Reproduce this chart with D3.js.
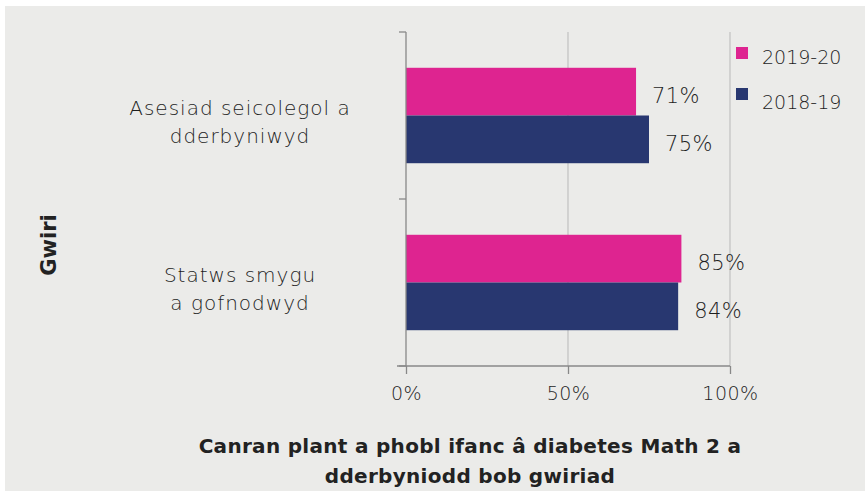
<!DOCTYPE html>
<html>
<head>
<meta charset="utf-8">
<script src="https://cdn.jsdelivr.net/npm/d3@7"></script>
<style>
  body { margin: 0; background: #fff; }
  svg { display: block; font-family: "DejaVu Sans", sans-serif; }
</style>
</head>
<body>
<div id="chart"></div>
<script>
// data
const categories = ["Asesiad seicolegol a dderbyniwyd", "Statws smygu a gofnodwyd"];
const categoryLines = [["Asesiad seicolegol a", "dderbyniwyd"], ["Statws smygu", "a gofnodwyd"]];
const seriesNames = ["2019-20", "2018-19"];
const values2019 = [71, 85];
const values2018 = [75, 84];
const xTicks = [0, 50, 100];

const colors = ["#de2490", "#283770"];
const textColor = "#1e1e1e";

const width = 865, height = 493;
const margin = ({ top: 32, right: 135, bottom: 127, left: 406 });

const svg = d3.select("#chart")
  .append("svg")
  .attr("width", width)
  .attr("height", height);

// grey panel
svg.append("rect")
  .attr("x", 5).attr("y", 6)
  .attr("width", width - 5).attr("height", 485)
  .attr("fill", "#ebebe9");

let x = d3.scaleLinear()
  .domain([0, 100])
  .range([margin.left, width - margin.right]);

let y = d3.scaleBand()
  .domain(categories)
  .range([margin.top, height - margin.bottom]);

let ySub = d3.scaleBand()
  .domain(seriesNames)
  .range([0, y.bandwidth()])
  .paddingOuter(0.75);

// gridlines
svg.append("g")
  .selectAll("line")
  .data(xTicks.slice(1))
  .join("line")
  .attr("x1", d => x(d)).attr("x2", d => x(d))
  .attr("y1", margin.top).attr("y2", height - margin.bottom)
  .attr("stroke", "#c4c4c4")
  .attr("stroke-width", 1.3);

// bars
const rows = categories.map((c, i) => [
  { cat: c, s: seriesNames[0], v: values2019[i] },
  { cat: c, s: seriesNames[1], v: values2018[i] }
]).flat();

svg.append("g")
  .selectAll("rect")
  .data(rows)
  .join("rect")
  .attr("x", x(0))
  .attr("y", d => y(d.cat) + ySub(d.s))
  .attr("width", d => x(d.v) - x(0))
  .attr("height", ySub.bandwidth())
  .attr("fill", d => colors[seriesNames.indexOf(d.s)]);

// value labels
svg.append("g")
  .selectAll("text")
  .data(rows)
  .join("text")
  .attr("x", d => x(d.v) + 40)
  .attr("y", d => y(d.cat) + ySub(d.s) + ySub.bandwidth() / 2 + 4)
  .attr("dy", "0.36em")
  .attr("text-anchor", "middle")
  .attr("font-size", 21)
  .attr("font-weight", 200)
  .attr("letter-spacing", 0.4)
  .attr("fill", textColor)
  .text(d => d.v + "%");

// y axis (line + category boundary ticks)
const yAxis = svg.append("g");
yAxis.append("line")
  .attr("x1", x(0)).attr("x2", x(0))
  .attr("y1", margin.top).attr("y2", height - margin.bottom)
  .attr("stroke", "#888").attr("stroke-width", 1.3);
yAxis.selectAll(".tk")
  .data(categories.map(c => y(c)).concat([height - margin.bottom]))
  .join("line")
  .attr("x1", x(0) - 7).attr("x2", x(0))
  .attr("y1", d => d).attr("y2", d => d)
  .attr("stroke", "#888").attr("stroke-width", 1.3);

// category labels
categoryLines.forEach((lines, i) => {
  svg.append("text")
    .attr("x", 240)
    .attr("y", y(categories[i]) + y.bandwidth() / 2 - 1)
    .attr("text-anchor", "middle")
    .attr("font-size", 20)
    .attr("font-weight", 200)
    .attr("letter-spacing", 1)
    .attr("fill", textColor)
    .selectAll("tspan")
    .data(lines)
    .join("tspan")
    .attr("x", 240)
    .attr("dy", (d, j) => j === 0 ? 0 : 28)
    .text(d => d);
});

// x axis
svg.append("g")
  .attr("transform", `translate(0,${height - margin.bottom})`)
  .call(d3.axisBottom(x).tickValues(xTicks).tickFormat(d => d + "%").tickSize(8).tickSizeOuter(0))
  .call(g => g.select(".domain").attr("d", `M${x(0) - 9},0H${x(100)}`).attr("stroke", "#888").attr("stroke-width", 1.3))
  .call(g => g.selectAll(".tick line").attr("stroke", "#888").attr("stroke-width", 1.3))
  .call(g => g.selectAll(".tick text")
    .attr("font-family", "DejaVu Sans, sans-serif")
    .attr("font-size", 19).attr("font-weight", 200)
    .attr("letter-spacing", 0.5)
    .attr("fill", textColor).attr("y", 21));

// legend
const legend = svg.append("g");
seriesNames.forEach((s, i) => {
  legend.append("rect")
    .attr("x", 736).attr("y", 47 + i * 41)
    .attr("width", 12).attr("height", 12)
    .attr("fill", colors[i]);
  legend.append("text")
    .attr("x", 762).attr("y", 57 + i * 45)
    .attr("dy", "0.36em")
    .attr("font-size", 19).attr("font-weight", 200)
    .attr("fill", textColor)
    .text(s);
});

// axis titles
svg.append("text")
  .attr("transform", "translate(48,245) rotate(-90)")
  .attr("dy", "0.36em")
  .attr("text-anchor", "middle")
  .attr("font-size", 21).attr("font-weight", 700)
  .attr("fill", "#222")
  .text("Gwiri");

svg.append("text")
  .attr("x", 470).attr("y", 453)
  .attr("text-anchor", "middle")
  .attr("font-size", 20).attr("font-weight", 700)
  .attr("letter-spacing", 0.3)
  .attr("fill", "#222")
  .text("Canran plant a phobl ifanc â diabetes Math 2 a");
svg.append("text")
  .attr("x", 470).attr("y", 483)
  .attr("text-anchor", "middle")
  .attr("font-size", 20).attr("font-weight", 700)
  .attr("letter-spacing", 0.3)
  .attr("fill", "#222")
  .text("dderbyniodd bob gwiriad");
</script>
</body>
</html>
